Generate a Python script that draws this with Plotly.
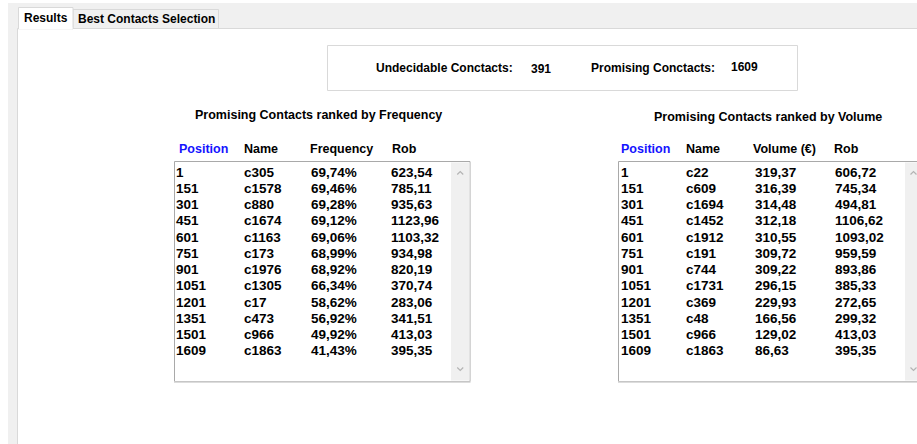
import plotly.graph_objects as go

# ---- data ----
undecidable_count = 391
promising_count = 1609

freq_positions = ["1", "151", "301", "451", "601", "751", "901", "1051", "1201", "1351", "1501", "1609"]
freq_names = ["c305", "c1578", "c880", "c1674", "c1163", "c173", "c1976", "c1305", "c17", "c473", "c966", "c1863"]
freq_values = ["69,74%", "69,46%", "69,28%", "69,12%", "69,06%", "68,99%", "68,92%", "66,34%", "58,62%", "56,92%", "49,92%", "41,43%"]
freq_robs = ["623,54", "785,11", "935,63", "1123,96", "1103,32", "934,98", "820,19", "370,74", "283,06", "341,51", "413,03", "395,35"]

vol_positions = ["1", "151", "301", "451", "601", "751", "901", "1051", "1201", "1351", "1501", "1609"]
vol_names = ["c22", "c609", "c1694", "c1452", "c1912", "c191", "c744", "c1731", "c369", "c48", "c966", "c1863"]
vol_values = ["319,37", "316,39", "314,48", "312,18", "310,55", "309,72", "309,22", "296,15", "229,93", "166,56", "129,02", "86,63"]
vol_robs = ["606,72", "745,34", "494,81", "1106,62", "1093,02", "959,59", "893,86", "385,33", "272,65", "299,32", "413,03", "395,35"]

freq_headers = ["Position", "Name", "Frequency", "Rob"]
vol_headers = ["Position", "Name", "Volume (€)", "Rob"]
tab_labels = ["Results", "Best Contacts Selection"]

# ---- styling / layout ----
W, H = 917, 444
FONT = "Liberation Sans, Arial, sans-serif"
GRAY = "#f0f0f0"
BORDER = "#d9d9d9"
LIST_BORDER = "#a9a9a9"
BLUE = "#1414ff"
TX = -2  # annotation padding compensation

shapes = []
annotations = []


def rect(x0, y0, x1, y1, fill, line=None, lw=1):
    shapes.append(dict(type="rect", xref="x", yref="y", x0=x0, y0=y0, x1=x1, y1=y1,
                       fillcolor=fill, line=dict(color=line or fill, width=lw if line else 0),
                       layer="below"))


def hline(x0, x1, y, color, w=1):
    shapes.append(dict(type="line", xref="x", yref="y", x0=x0, x1=x1, y0=y, y1=y,
                       line=dict(color=color, width=w), layer="below"))


def text(x, y, s, size=12, color="#000000", bold=True, anchor="left"):
    annotations.append(dict(x=x + TX, y=y, xref="x", yref="y", text=s, showarrow=False,
                            xanchor=anchor, yanchor="middle",
                            font=dict(family=FONT, size=size, color=color,
                                      weight="bold" if bold else "normal")))


def chevron(cx, cy, up=True):
    d = 3
    if up:
        path = f"M {cx-d},{cy+d/2} L {cx},{cy-d/2} L {cx+d},{cy+d/2}"
    else:
        path = f"M {cx-d},{cy-d/2} L {cx},{cy+d/2} L {cx+d},{cy-d/2}"
    shapes.append(dict(type="path", xref="x", yref="y", path=path,
                       line=dict(color="#b4b4b4", width=1.2)))


# window background
rect(8, 3, W + 2, H + 2, GRAY)
# tab page
rect(17.5, 28.5, W + 2, H + 2, "#ffffff", BORDER)
# tabs
rect(73, 9.5, 218.5, 28.5, GRAY, BORDER)
rect(18.5, 7.5, 73, 29, "#ffffff", BORDER)
hline(19, 72.5, 28.5, "#ffffff", 2)
text(24, 18, tab_labels[0], size=12)
text(78, 19, tab_labels[1], size=12)

# summary box
rect(327.5, 45.5, 797.5, 90.5, "#ffffff", BORDER)
text(376, 68, "Undecidable Conctacts:", size=12)
text(531, 69, str(undecidable_count), size=12)
text(591, 68, "Promising Conctacts:", size=12)
text(731, 67, str(promising_count), size=12)

ROW0 = 172
ROW_STEP = 16.27


def listbox(x0, x1, scroll_x0, title, title_x, title_y, headers, cols_x, head_x, columns):
    text(title_x, title_y, title, size=12.5)
    for i, h in enumerate(headers):
        text(head_x[i], 149, h, size=12.5, color=BLUE if i == 0 else "#000000")
    # box
    rect(x0 + 0.5, 161.5, x1 - 0.5, 381.5, "#ffffff", LIST_BORDER)
    hline(x0, x1, 382, "#d0d0d0", 1.5)
    # scrollbar
    rect(scroll_x0, 162.5, min(x1 - 1, W + 2), 380.5, GRAY)
    sx = (scroll_x0 + min(x1 - 1, W + 5)) / 2
    chevron(sx, 173, up=True)
    chevron(sx, 369, up=False)
    # rows
    n = len(columns[0])
    for r in range(n):
        y = ROW0 + r * ROW_STEP
        for c, col in enumerate(columns):
            text(cols_x[c], y, col[r], size=13.5)


listbox(174, 470.5, 451, "Promising Contacts ranked by Frequency", 195, 115,
        freq_headers, [176, 244, 311, 391], [179, 244, 310, 392],
        [freq_positions, freq_names, freq_values, freq_robs])

listbox(618, 935, 905, "Promising Contacts ranked by Volume", 654, 117,
        vol_headers, [621, 686, 755, 835], [621, 686, 753, 834],
        [vol_positions, vol_names, vol_values, vol_robs])

fig = go.Figure()
fig.update_layout(
    width=W, height=H,
    margin=dict(l=0, r=0, t=0, b=0),
    paper_bgcolor="#ffffff", plot_bgcolor="#ffffff",
    xaxis=dict(range=[0, W], visible=False, fixedrange=True),
    yaxis=dict(range=[H, 0], visible=False, fixedrange=True),
    shapes=shapes, annotations=annotations, showlegend=False,
)
fig.write_html(
    "out.html",
    config=dict(displayModeBar=False),
    post_script="document.body.style.margin='0';document.body.style.overflow='hidden';",
)
